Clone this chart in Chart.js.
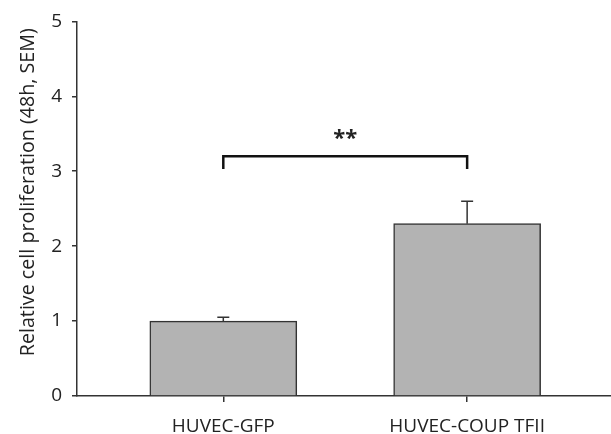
<!DOCTYPE html>
<html>
<head>
<meta charset="utf-8">
<script src="https://cdn.jsdelivr.net/npm/chart.js@4"></script>
<style>
html,body{margin:0;padding:0;background:#fff;}
#wrap{width:611px;height:434px;position:relative;}
</style>
</head>
<body>
<div id="wrap"><canvas id="c"></canvas></div>
<script>
const categories = ["HUVEC-GFP", "HUVEC-COUP TFII"];
const values = [1.0, 2.3];
const sem = [0.05, 0.3];
const bracketX = [1, 1, 2, 2];
const bracketY = [3.03, 3.2, 3.2, 3.03];
const significance = "**";
const yTicks = [0, 1, 2, 3, 4, 5];
const yTitle = 'Relative cell proliferation (48h, SEM)';

const FONT = "'Open Sans', 'DejaVu Sans', sans-serif";

const errorBars = {
  id: 'errorBars',
  afterDatasetsDraw(chart) {
    const meta = chart.getDatasetMeta(0);
    const ys = chart.scales.y;
    const ctx = chart.ctx;
    ctx.save();
    ctx.strokeStyle = '#333';
    ctx.lineWidth = 1.5;
    meta.data.forEach((bar, i) => {
      const top = ys.getPixelForValue(values[i]);
      const end = ys.getPixelForValue(values[i] + sem[i]);
      ctx.beginPath();
      ctx.moveTo(bar.x, top);
      ctx.lineTo(bar.x, end);
      ctx.moveTo(bar.x - 6, end);
      ctx.lineTo(bar.x + 6, end);
      ctx.stroke();
    });
    // significance stars
    const xs = chart.scales.x;
    ctx.fillStyle = '#222';
    ctx.font = "bold 22px " + FONT;
    ctx.textAlign = 'center';
    ctx.textBaseline = 'middle';
    ctx.fillText(significance, xs.getPixelForValue((bracketX[0] + bracketX[3]) / 2), ys.getPixelForValue(3.5) + 5);
    // y-axis title
    ctx.save();
    ctx.translate(28, ys.getPixelForValue(2.72));
    ctx.rotate(-Math.PI / 2);
    ctx.font = "19.7px " + FONT;
    ctx.fillText(yTitle, 0, 0);
    ctx.restore();
    ctx.restore();
  }
};

new Chart(document.getElementById('c'), {
  type: 'bar',
  data: {
    datasets: [
      {
        type: 'bar',
        data: values.map((v, i) => ({x: i + 1, y: v})),
        backgroundColor: '#b3b3b3',
        borderColor: '#333',
        borderWidth: 1.5,
        barThickness: 147,
        order: 2
      },
      {
        type: 'line',
        data: bracketX.map((x, i) => ({x: x, y: bracketY[i]})),
        borderColor: '#111',
        borderWidth: 2.5,
        pointRadius: 0,
        tension: 0,
        fill: false,
        order: 1
      }
    ]
  },
  options: {
    responsive: true,
    maintainAspectRatio: false,
    animation: false,
    layout: {padding: {top: 19, right: 0, left: 0, bottom: 0}},
    plugins: {legend: {display: false}, tooltip: {enabled: false}},
    scales: {
      x: {
        type: 'linear',
        min: 0.4,
        max: 2.59,
        offset: false,
        afterBuildTicks: (s) => { s.ticks = categories.map((c, i) => ({value: i + 1})); },
        afterFit: (s) => { s.height = 38; },
        ticks: {
          callback: (v) => categories[v - 1],
          color: '#222',
          font: {family: FONT, size: 19},
          padding: 13,
          maxRotation: 0,
          autoSkip: false
        },
        grid: {display: true, offset: false, drawOnChartArea: false, drawTicks: true, tickLength: 6, color: '#333', lineWidth: 1.5},
        border: {display: true, color: '#333', width: 1.5}
      },
      y: {
        min: 0,
        max: 5,
        afterBuildTicks: (s) => { s.ticks = yTicks.map(v => ({value: v})); },
        afterFit: (s) => { s.width = 77; },
        ticks: {
          color: '#222',
          font: {family: FONT, size: 19},
          padding: 10
        },
        grid: {display: true, offset: false, drawOnChartArea: false, drawTicks: true, tickLength: 5, color: '#333', lineWidth: 1.5},
        border: {display: true, color: '#333', width: 1.5},
        title: {display: false}
      }
    }
  },
  plugins: [errorBars]
});
</script>
</body>
</html>
